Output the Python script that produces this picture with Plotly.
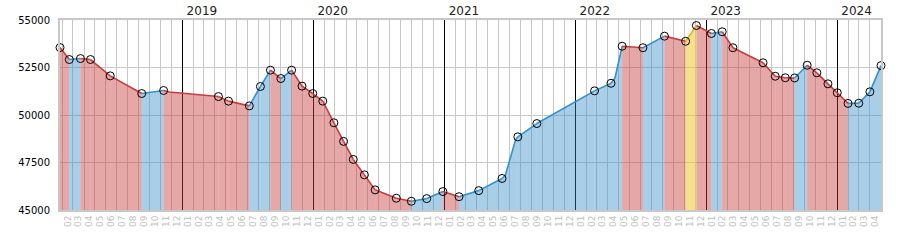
import plotly.graph_objects as go

# Marked observations
point_dates = [
    "2018-01-24", "2018-02-19", "2018-03-22", "2018-04-19", "2018-06-13", "2018-09-09",
    "2018-11-09", "2019-04-11", "2019-05-09", "2019-07-06", "2019-08-06", "2019-09-03",
    "2019-10-02", "2019-11-01", "2019-11-30", "2019-12-30", "2020-01-27", "2020-02-27",
    "2020-03-25", "2020-04-21", "2020-05-22", "2020-06-21", "2020-08-19", "2020-09-30",
    "2020-11-12", "2020-12-27", "2021-02-10", "2021-04-06", "2021-06-10", "2021-07-24",
    "2021-09-15", "2022-02-23", "2022-04-10", "2022-05-11", "2022-07-08", "2022-09-06",
    "2022-11-04", "2022-12-04", "2023-01-15", "2023-02-14", "2023-03-16", "2023-06-08",
    "2023-07-12", "2023-08-09", "2023-09-04", "2023-10-09", "2023-11-05", "2023-12-06",
    "2024-01-01", "2024-01-31", "2024-03-01", "2024-04-01", "2024-05-02",
]
point_values = [
    53550, 52920, 52970, 52920, 52060, 51130,
    51290, 50970, 50730, 50480, 51500, 52360,
    51920, 52360, 51520, 51130, 50730, 49590,
    48610, 47660, 46850, 46060, 45620, 45460,
    45600, 45970, 45700, 46020, 46660, 48850,
    49550, 51270, 51670, 53620, 53540, 54150,
    53880, 54710, 54290, 54380, 53540, 52750,
    52040, 51960, 51950, 52620, 52220, 51640,
    51170, 50610, 50620, 51220, 52600,
]

# Unmarked vertices of the line
extra_dates = ["2018-11-25", "2021-06-19", "2021-07-18", "2022-04-21"]
extra_values = [51210, 46820, 48710, 51950]

years = ["2019", "2020", "2021", "2022", "2023", "2024"]

RED_LINE, RED_FILL = "#cc3b3b", "rgba(200,60,60,0.45)"
BLUE_LINE, BLUE_FILL = "#3591c9", "rgba(50,140,200,0.42)"
YEL_LINE, YEL_FILL = "#e6b422", "rgba(235,200,40,0.55)"

all_pts = sorted(list(zip(point_dates, point_values)) + list(zip(extra_dates, extra_values)))
vmax = max(point_values)

segments = []
for i in range(len(point_dates) - 1):
    d0, d1 = point_dates[i], point_dates[i + 1]
    v0, v1 = point_values[i], point_values[i + 1]
    seg = [(d, v) for d, v in all_pts if d0 <= d <= d1]
    if v1 == vmax and v1 > v0:
        lc, fc = YEL_LINE, YEL_FILL
    elif v1 > v0:
        lc, fc = BLUE_LINE, BLUE_FILL
    else:
        lc, fc = RED_LINE, RED_FILL
    segments.append(([d for d, _ in seg], [v for _, v in seg], lc, fc))

fig = go.Figure()
for xs, ys, lc, fc in segments:
    fig.add_trace(go.Scatter(x=xs, y=ys, mode="lines", line=dict(width=0, color=fc),
                             fill="tozeroy", fillcolor=fc, hoverinfo="skip", showlegend=False))
for xs, ys, lc, fc in segments:
    fig.add_trace(go.Scatter(x=xs, y=ys, mode="lines", line=dict(width=1.6, color=lc),
                             hoverinfo="skip", showlegend=False))
fig.add_trace(go.Scatter(x=point_dates, y=point_values, mode="markers",
                         marker=dict(symbol="circle-open", size=8, color="black",
                                     line=dict(width=1, color="black")),
                         cliponaxis=False, showlegend=False))
# invisible trace to host the top (year) axis
fig.add_trace(go.Scatter(x=[point_dates[0], point_dates[-1]], y=[point_values[0], point_values[-1]],
                         xaxis="x2", mode="markers", marker=dict(opacity=0), hoverinfo="skip",
                         showlegend=False))

xrange = [point_dates[0], point_dates[-1]]
fig.update_layout(
    width=900, height=250,
    margin=dict(l=60, r=19, t=20, b=40, autoexpand=False),
    paper_bgcolor="white", plot_bgcolor="white",
    font=dict(family="DejaVu Sans", size=10, color="black"),
    showlegend=False,
    xaxis=dict(
        type="date", range=xrange, dtick="M1", tick0="2018-01-01", tickformat="%m",
        ticklabelmode="period", tickangle=-90, ticks="", automargin=False,
        tickfont=dict(size=9, color="#c0c0c0"),
        showgrid=True, gridcolor="#c8c8c8", gridwidth=1,
        showline=True, linecolor="#c8c8c8", linewidth=2, mirror=True, zeroline=False,
    ),
    xaxis2=dict(
        type="date", overlaying="x", matches="x", side="top", anchor="y", range=xrange,
        tickvals=[f"{y}-01-01" for y in years], ticktext=years, automargin=False,
        ticklabelposition="outside right", ticks="", ticklabelshift=4, ticklabelstandoff=2,
        tickfont=dict(size=12, color="#222222"),
        showgrid=True, gridcolor="black", gridwidth=1, showline=False, zeroline=False,
    ),
    yaxis=dict(
        range=[45000, 55000], tick0=45000, dtick=2500, ticks="", tickformat="d",
        tickfont=dict(size=10, color="black"), ticklabelstandoff=6, automargin=False,
        showgrid=True, gridcolor="#c8c8c8", gridwidth=1,
        showline=True, linecolor="#c8c8c8", linewidth=2, mirror=True, zeroline=False,
    ),
)

fig.write_html("out.html")
